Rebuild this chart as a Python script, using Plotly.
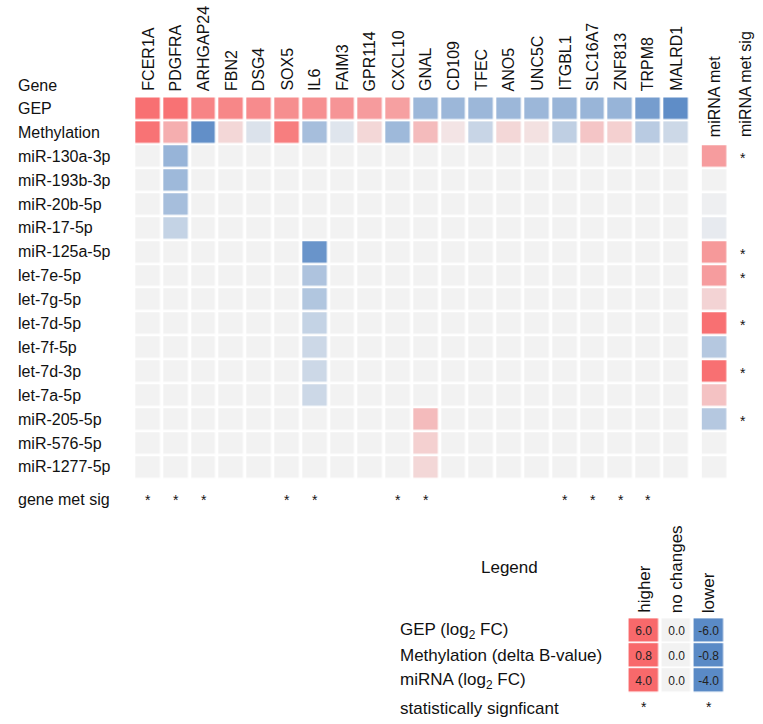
import plotly.graph_objects as go

# ---------------- data ----------------
genes = ["FCER1A", "PDGFRA", "ARHGAP24", "FBN2", "DSG4", "SOX5", "IL6", "FAIM3",
         "GPR114", "CXCL10", "GNAL", "CD109", "TFEC", "ANO5", "UNC5C", "ITGBL1",
         "SLC16A7", "ZNF813", "TRPM8", "MALRD1"]
gep_log2fc = [5.7, 5.6, 4.8, 4.7, 4.5, 4.4, 4.3, 4.1, 3.8, 3.6,
              -3.4, -3.4, -3.4, -3.4, -3.4, -3.5, -3.5, -3.6, -4.9, -5.8]
methylation_delta_b = [0.74, 0.40, -0.76, 0.16, -0.12, 0.68, -0.40, -0.10, 0.16, -0.44,
                       0.32, 0.08, -0.22, 0.16, 0.10, -0.27, 0.26, 0.20, -0.30, -0.20]
gene_met_sig = [1, 1, 1, 0, 0, 1, 1, 0, 0, 1, 1, 0, 0, 0, 0, 1, 1, 1, 1, 0]

mirnas = ["miR-130a-3p", "miR-193b-3p", "miR-20b-5p", "miR-17-5p", "miR-125a-5p",
          "let-7e-5p", "let-7g-5p", "let-7d-5p", "let-7f-5p", "let-7d-3p", "let-7a-5p",
          "miR-205-5p", "miR-576-5p", "miR-1277-5p"]
mirna_target = ["PDGFRA", "PDGFRA", "PDGFRA", "PDGFRA", "IL6", "IL6", "IL6", "IL6",
                "IL6", "IL6", "IL6", "GNAL", "GNAL", "GNAL"]
mirna_log2fc = [-2.4, -2.2, -2.0, -1.2, -3.6, -1.8, -1.7, -1.2, -1.0, -1.0, -1.0, 1.6, 1.0, 0.8]
mirna_met = [0.50, 0.0, -0.02, -0.06, 0.52, 0.50, 0.18, 0.76, -0.32, 0.76, 0.28, -0.32, 0.0, 0.0]
mirna_met_sig = [1, 0, 0, 0, 1, 1, 0, 1, 0, 1, 0, 1, 0, 0]

legend_rows = ["GEP (log<sub>2</sub> FC)", "Methylation (delta B-value)", "miRNA (log<sub>2</sub> FC)"]
legend_cols = ["higher", "no changes", "lower"]
legend_max = [6.0, 0.8, 4.0]

# ---------------- styling / geometry ----------------
W, H = 763, 724
COLORSCALE = [[0.0, "#5A8AC6"], [0.5, "#F2F2F2"], [1.0, "#F8696B"]]
FONT = "Liberation Sans, Arial, sans-serif"
TXT = "#111111"

X0, XP = 148.15, 27.79   # pixel center of column 0, column pitch
Y0, YP = 108.4, 23.9     # pixel center of row 0, row pitch
XGAP, YGAP = 3.5, 2.5
MET_COL_X = (714.7 - X0) / XP


def py(p):  # pixel y -> paper y
    return 1 - p / H


def px(p):  # pixel x -> paper x
    return p / W


fig = go.Figure()

ncol = len(genes)
cols = list(range(ncol))

# GEP row
fig.add_trace(go.Heatmap(z=[gep_log2fc], x=cols, y=[0], colorscale=COLORSCALE,
                         zmin=-6, zmax=6, showscale=False, xgap=XGAP, ygap=YGAP,
                         hoverinfo="skip"))
# Methylation row
fig.add_trace(go.Heatmap(z=[methylation_delta_b], x=cols, y=[1], colorscale=COLORSCALE,
                         zmin=-0.8, zmax=0.8, showscale=False, xgap=XGAP, ygap=YGAP,
                         hoverinfo="skip"))
# miRNA matrix
mat = []
for i, m in enumerate(mirnas):
    row = [0.0] * ncol
    row[genes.index(mirna_target[i])] = mirna_log2fc[i]
    mat.append(row)
fig.add_trace(go.Heatmap(z=mat, x=cols, y=list(range(2, 2 + len(mirnas))),
                         colorscale=COLORSCALE, zmin=-4, zmax=4, showscale=False,
                         xgap=XGAP, ygap=YGAP, hoverinfo="skip"))
# miRNA met column
fig.add_trace(go.Heatmap(z=[[v] for v in mirna_met], x=[MET_COL_X],
                         y=list(range(2, 2 + len(mirnas))),
                         colorscale=COLORSCALE, zmin=-0.8, zmax=0.8, showscale=False,
                         xgap=XGAP, ygap=YGAP, hoverinfo="skip"))

# Legend heatmap (second axis), one trace per row with its own scale
for r, mx in enumerate(legend_max):
    fig.add_trace(go.Heatmap(z=[[mx, 0.0, -mx]], x=[0, 1, 2], y=[r],
                             colorscale=COLORSCALE, zmin=-mx, zmax=mx, showscale=False,
                             xgap=XGAP, ygap=1.7, texttemplate="%{z:.1f}",
                             textfont=dict(size=12, color="#222222", family=FONT),
                             hoverinfo="skip", xaxis="x2", yaxis="y2"))

ann = []
# row labels
row_labels = ["GEP", "Methylation"] + mirnas
for r, lab in enumerate(row_labels):
    ann.append(dict(text=lab, x=px(16), xref="paper", xanchor="left",
                    y=r, yref="y", yanchor="middle", showarrow=False,
                    font=dict(size=16, color=TXT, family=FONT)))
ann.append(dict(text="Gene", x=px(16), xref="paper", xanchor="left",
                y=py(85), yref="paper", yanchor="middle", showarrow=False,
                font=dict(size=16, color=TXT, family=FONT)))
ann.append(dict(text="gene met sig", x=px(16), xref="paper", xanchor="left",
                y=py(499), yref="paper", yanchor="middle", showarrow=False,
                font=dict(size=16, color=TXT, family=FONT)))

# column headers
for c, g in enumerate(genes):
    ann.append(dict(text=g, x=c, xref="x", xanchor="center",
                    y=py(93), yref="paper", yanchor="bottom", textangle=-90,
                    showarrow=False, font=dict(size=16, color=TXT, family=FONT)))
ann.append(dict(text="miRNA met", x=MET_COL_X, xref="x", xanchor="center",
                y=py(139), yref="paper", yanchor="bottom", textangle=-90,
                showarrow=False, font=dict(size=16, color=TXT, family=FONT)))
ann.append(dict(text="miRNA met sig", x=px(745), xref="paper", xanchor="center",
                y=py(139), yref="paper", yanchor="bottom", textangle=-90,
                showarrow=False, font=dict(size=16, color=TXT, family=FONT)))

# gene met sig asterisks
for c, s in enumerate(gene_met_sig):
    if s:
        ann.append(dict(text="*", x=c, xref="x", xanchor="center",
                        y=py(500), yref="paper", yanchor="middle", showarrow=False,
                        font=dict(size=14, color=TXT, family=FONT)))
# miRNA met sig asterisks
for i, s in enumerate(mirna_met_sig):
    if s:
        ann.append(dict(text="*", x=px(743), xref="paper", xanchor="center",
                        y=2 + i + 0.08, yref="y", yanchor="middle", showarrow=False,
                        font=dict(size=14, color=TXT, family=FONT)))

# Legend texts
ann.append(dict(text="Legend", x=px(510), xref="paper", xanchor="center",
                y=py(567), yref="paper", yanchor="middle", showarrow=False,
                font=dict(size=17, color=TXT, family=FONT)))
for r, lab in enumerate(legend_rows):
    ann.append(dict(text=lab, x=px(398), xref="paper", xanchor="left",
                    y=r, yref="y2", yanchor="middle", showarrow=False,
                    font=dict(size=17, color=TXT, family=FONT)))
ann.append(dict(text="statistically signficant", x=px(398), xref="paper", xanchor="left",
                y=py(708), yref="paper", yanchor="middle", showarrow=False,
                font=dict(size=17, color=TXT, family=FONT)))
for c, lab in enumerate(legend_cols):
    ann.append(dict(text=lab, x=c, xref="x2", xanchor="center",
                    y=py(615), yref="paper", yanchor="bottom", textangle=-90,
                    showarrow=False, font=dict(size=17, color=TXT, family=FONT)))
for c in (0, 2):
    ann.append(dict(text="*", x=c, xref="x2", xanchor="center",
                    y=py(707), yref="paper", yanchor="middle", showarrow=False,
                    font=dict(size=14, color=TXT, family=FONT)))

# axes ranges mapping data units to pixels
x_range = [(0 - X0) / XP - 0.0, (W - X0) / XP]
y_range = [(H - Y0) / YP, (0 - Y0) / YP]

leg_left, leg_right = 627.55, 725.05
leg_top, leg_bot = 618.2, 693.2

fig.update_layout(
    width=W, height=H, autosize=False,
    margin=dict(l=0, r=0, t=0, b=0),
    paper_bgcolor="white", plot_bgcolor="white",
    showlegend=False,
    xaxis=dict(domain=[0, 1], range=x_range, visible=False, fixedrange=True),
    yaxis=dict(domain=[0, 1], range=y_range, visible=False, fixedrange=True),
    xaxis2=dict(domain=[px(leg_left), px(leg_right)], range=[-0.5, 2.5], anchor="y2",
                visible=False, fixedrange=True),
    yaxis2=dict(domain=[py(leg_bot), py(leg_top)], range=[2.5, -0.5], anchor="x2",
                visible=False, fixedrange=True),
    annotations=ann,
    font=dict(family=FONT, color=TXT),
)

fig.write_html("out.html", config={"displayModeBar": False},
               post_script="document.body.style.margin='0';document.body.style.overflow='hidden';")
